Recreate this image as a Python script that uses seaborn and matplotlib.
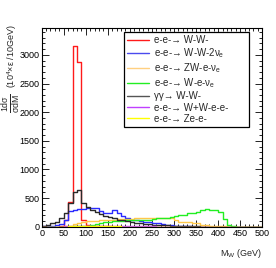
import numpy as np
import pandas as pd
import matplotlib
matplotlib.use("Agg")
import matplotlib.pyplot as plt
from matplotlib.lines import Line2D
from matplotlib.ticker import MultipleLocator
import seaborn as sns

# ---- data (10 GeV bins from 0 to 500 GeV) ----
bin_lo = list(range(0, 500, 10))

ww = [0, 0, 0, 0, 10, 120, 440, 3160, 2870, 115,
      30, 15, 8, 5, 4, 4, 3, 3, 3, 2,
      2, 2, 2, 1, 1, 1, 1, 1, 1, 1,
      0, 0, 0, 0, 0, 0, 0, 0, 0, 0,
      0, 0, 0, 0, 0, 0, 0, 0, 0, 0]
ww2nu = [5, 12, 20, 30, 50, 120, 275, 300, 305, 305,
         320, 330, 335, 270, 245, 245, 290, 235, 190, 150,
         120, 110, 95, 90, 80, 60, 58, 40, 30, 25,
         15, 10, 6, 4, 3, 2, 1, 1, 0, 0,
         0, 0, 0, 0, 0, 0, 0, 0, 0, 0]
zwenu = [0, 0, 0, 0, 2, 6, 20, 50, 70, 85,
         95, 100, 105, 110, 115, 120, 125, 128, 132, 136,
         140, 145, 148, 150, 150, 148, 145, 145, 147, 147,
         117, 90, 87, 87, 60, 60, 30, 30, 12, 8,
         5, 4, 2, 1, 0, 0, 0, 0, 0, 0]
wenu = [0, 0, 0, 0, 0, 1, 3, 5, 8, 12,
        20, 35, 50, 65, 80, 88, 95, 100, 105, 110,
        115, 118, 120, 125, 125, 130, 150, 155, 160, 170,
        190, 200, 210, 235, 240, 260, 300, 305, 300, 290,
        260, 130, 30, 5, 0, 0, 0, 0, 0, 0]
gg_ww = [10, 22, 60, 88, 155, 245, 420, 610, 640, 420,
         345, 295, 250, 215, 190, 165, 145, 125, 110, 95,
         80, 70, 60, 48, 42, 38, 33, 28, 23, 18,
         14, 11, 9, 7, 5, 4, 3, 2, 2, 1,
         1, 1, 0, 0, 0, 0, 0, 0, 0, 0]
wwee = [0, 0, 1, 2, 3, 5, 8, 10, 10, 10,
        10, 10, 10, 9, 9, 8, 8, 7, 7, 6,
        6, 5, 5, 5, 4, 4, 3, 3, 3, 2,
        2, 2, 1, 1, 1, 1, 0, 0, 0, 0,
        0, 0, 0, 0, 0, 0, 0, 0, 0, 0]
zee = [0, 0, 0, 1, 2, 3, 5, 6, 6, 6,
       6, 5, 5, 5, 5, 4, 4, 4, 3, 3,
       3, 3, 2, 2, 2, 2, 2, 1, 1, 1,
       1, 1, 1, 1, 0, 0, 0, 0, 0, 0,
       0, 0, 0, 0, 0, 0, 0, 0, 0, 0]

labels = ["e-e-→ W-W-",
          r"e-e-→ W-W-2$\nu_e$",
          r"e-e-→ ZW-e-$\nu_e$",
          r"e-e-→ W-e-$\nu_e$",
          "γγ→ W-W-",
          "e-e-→ W+W-e-e-",
          "e-e-→ Ze-e-"]
series = [ww, ww2nu, zwenu, wenu, gg_ww, wwee, zee]
colors = ["#ff1a1a", "#2a2aff", "#ffc84a", "#22ee22", "#2a2a2a", "#c040ff", "#ffff00"]
legend_colors = ["#ff1a1a", "#4a4aee", "#ffd080", "#22ee22", "#555555", "#c040ff", "#ffff00"]

sns.set_theme(style="ticks")
plt.rcParams["font.family"] = ["Liberation Sans", "DejaVu Sans"]
plt.rcParams["mathtext.fontset"] = "custom"
plt.rcParams["mathtext.rm"] = "Liberation Sans"
plt.rcParams["mathtext.it"] = "Liberation Sans"
plt.rcParams["mathtext.bf"] = "Liberation Sans:bold"

fig = plt.figure(figsize=(2.76, 2.68), dpi=100)
ax = fig.add_axes([0.151, 0.154, 0.799, 0.743])

edges = bin_lo + [500]
for vals, col in zip(series, colors):
    df = pd.DataFrame({"m": [b + 5 for b in bin_lo], "w": vals})
    sns.histplot(data=df, x="m", weights="w", bins=edges, element="step",
                 fill=False, color=col, linewidth=1.0, ax=ax)

ax.set_xlim(0, 500)
ax.set_ylim(0, 3477)
ax.xaxis.set_major_locator(MultipleLocator(50))
ax.xaxis.set_minor_locator(MultipleLocator(10))
ax.yaxis.set_major_locator(MultipleLocator(500))
ax.yaxis.set_minor_locator(MultipleLocator(100))
ax.tick_params(which="both", direction="in", top=True, right=True,
               colors="black", width=0.6, labelsize=6.5, pad=1.5)
ax.tick_params(which="major", length=5)
ax.tick_params(which="minor", length=2.5)
for s in ax.spines.values():
    s.set_color("black")
    s.set_linewidth(0.8)

ax.set_xlabel(r"M$_W$ (GeV)", fontsize=6.5, loc="right")
ax.xaxis.set_label_coords(1.0, -0.10)
ax.set_ylabel(r"(10$^{4}$×ε /10GeV)", fontsize=6.5, loc="top")
ax.yaxis.set_label_coords(-0.105, 1.015)
fig.text(11 / 276, 1 - 103 / 268, r"$\frac{1d\sigma}{\sigma dM}$", fontsize=9,
         rotation=90, ha="center", va="center")

handles = [Line2D([], [], color=c, lw=1.0) for c in legend_colors]
leg = ax.legend(handles, labels, loc="upper left",
                bbox_to_anchor=(0.373, 0.533, 0.567, 0.445), mode="expand",
                fontsize=7,
                frameon=True, fancybox=False, framealpha=1,
                edgecolor="black", handlelength=2.2, handletextpad=0.5,
                labelspacing=0.12, borderpad=0.35, borderaxespad=0)
leg.get_frame().set_linewidth(0.9)

fig.savefig("out.png", dpi=100)
